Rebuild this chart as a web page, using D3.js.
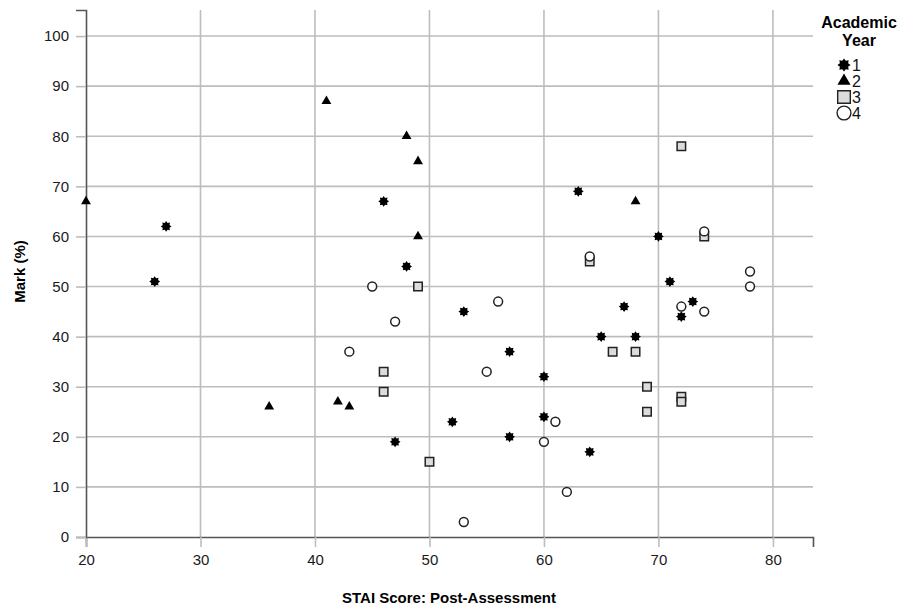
<!DOCTYPE html>
<html>
<head>
<meta charset="utf-8">
<script src="https://cdn.jsdelivr.net/npm/d3@7"></script>
<style>
  body { margin: 0; background: #fff; }
  svg { font-family: "Liberation Sans", Arial, sans-serif; }
</style>
</head>
<body>
<svg id="chart"></svg>
<script>
// data: [STAI score, mark]
const year1 = [[27,62],[26,51],[46,67],[48,54],[53,45],[57,37],[47,19],[52,23],[57,20],[60,32],
               [60,24],[64,17],[63,69],[65,40],[67,46],[68,40],[70,60],[71,51],[72,44],[73,47]];
const year2 = [[20,67],[41,87],[48,80],[49,75],[49,60],[36,26],[42,27],[43,26],[68,67]];
const year3 = [[49,50],[46,33],[46,29],[50,15],[64,55],[66,37],[68,37],[69,30],[69,25],[72,28],
               [72,27],[72,78],[74,60]];
const year4 = [[45,50],[47,43],[43,37],[56,47],[55,33],[60,19],[61,23],[62,9],[53,3],[64,56],
               [72,46],[74,45],[74,61],[78,53],[78,50]];
const years = ['1', '2', '3', '4'];
const xTicks = [20, 30, 40, 50, 60, 70, 80];
const yTicks = [0, 10, 20, 30, 40, 50, 60, 70, 80, 90, 100];

const width = 902, height = 607;
const svg = d3.select('#chart').attr('width', width).attr('height', height);

const x = d3.scaleLinear().domain([20, 83.5]).range([86, 813]);
const y = d3.scaleLinear().domain([0, 105.2]).range([537, 10]);

const gridColor = '#bdbdbd';
const axisColor = '#555';

// grid
svg.append('g').selectAll('line').data(yTicks.slice(1)).enter().append('line')
    .attr('x1', x(20)).attr('x2', x(83.5))
    .attr('y1', d => y(d)).attr('y2', d => y(d))
    .attr('stroke', gridColor).attr('stroke-width', 1.6);
svg.append('g').selectAll('line').data(xTicks.slice(1)).enter().append('line')
    .attr('x1', d => x(d)).attr('x2', d => x(d))
    .attr('y1', y(0)).attr('y2', y(105.2))
    .attr('stroke', gridColor).attr('stroke-width', 1.6);

// axes
const xAxis = svg.append('g')
    .attr('transform', `translate(0,${y(0)})`)
    .call(d3.axisBottom(x).tickValues(xTicks).tickSize(10).tickPadding(7));
const yAxis = svg.append('g')
    .attr('transform', `translate(${x(20)},0)`)
    .call(d3.axisLeft(y).tickValues(yTicks).tickSize(10).tickPadding(7));

[xAxis, yAxis].forEach(a => {
    a.attr('font-size', null).attr('font-family', null);
    a.select('.domain').attr('stroke', axisColor).attr('stroke-width', 1.6);
    a.selectAll('.tick line').attr('stroke', gridColor).attr('stroke-width', 1.6);
    a.selectAll('.tick text').attr('fill', '#1a1a1a').style('font-size', '15px');
});

// markers
const star = d3.symbol().type({
    draw(ctx, size) {
        const r = Math.sqrt(size) * 0.6, ri = r * 0.68;
        for (let i = 0; i < 16; i++) {
            const a = i * Math.PI / 8 - Math.PI / 2;
            const rr = i % 2 ? ri : r;
            if (i) ctx.lineTo(rr * Math.cos(a), rr * Math.sin(a));
            else ctx.moveTo(rr * Math.cos(a), rr * Math.sin(a));
        }
        ctx.closePath();
    }
}).size(80);

const styles = [
    { data: year1, path: star(), fill: '#000', stroke: 'none' },
    { data: year2, path: d3.symbol().type(d3.symbolTriangle).size(42)(), fill: '#000', stroke: 'none' },
    { data: year3, path: d3.symbol().type(d3.symbolSquare).size(72)(), fill: '#dcdcdc', stroke: '#222' },
    { data: year4, path: d3.symbol().type(d3.symbolCircle).size(62)(), fill: '#fff', stroke: '#222' }
];

const plot = svg.append('g');
styles.forEach(s => {
    plot.append('g').selectAll('path').data(s.data).enter().append('path')
        .attr('d', s.path)
        .attr('transform', d => `translate(${x(d[0])},${y(d[1])})`)
        .attr('fill', s.fill)
        .attr('stroke', s.stroke)
        .attr('stroke-width', 1.5);
});

// axis titles
svg.append('text')
    .attr('transform', `translate(25,${y(53)}) rotate(-90)`)
    .attr('text-anchor', 'middle')
    .style('font-size', '15px').style('font-weight', 'bold')
    .text('Mark (%)');
svg.append('text')
    .attr('x', 449).attr('y', 603)
    .attr('text-anchor', 'middle')
    .style('font-size', '15px').style('font-weight', 'bold')
    .text('STAI Score: Post-Assessment');

// legend
const legend = svg.append('g');
legend.append('text').attr('x', 859).attr('y', 28).attr('text-anchor', 'middle')
    .style('font-size', '16px').style('font-weight', 'bold').text('Academic');
legend.append('text').attr('x', 859).attr('y', 46).attr('text-anchor', 'middle')
    .style('font-size', '16px').style('font-weight', 'bold').text('Year');
const legendPaths = [
    star.size(120)(),
    d3.symbol().type(d3.symbolTriangle).size(75)(),
    d3.symbol().type(d3.symbolSquare).size(160)(),
    d3.symbol().type(d3.symbolCircle).size(150)()
];
const items = legend.selectAll('g.item').data(years).enter().append('g')
    .attr('class', 'item')
    .attr('transform', (d, i) => `translate(844,${65 + i * 16})`);
items.append('path')
    .attr('d', (d, i) => legendPaths[i])
    .attr('fill', (d, i) => styles[i].fill)
    .attr('stroke', (d, i) => styles[i].stroke)
    .attr('stroke-width', 1.4);
items.append('text').attr('x', 8).attr('y', 6)
    .style('font-size', '16px').attr('fill', '#111').text(d => d);
</script>
</body>
</html>
